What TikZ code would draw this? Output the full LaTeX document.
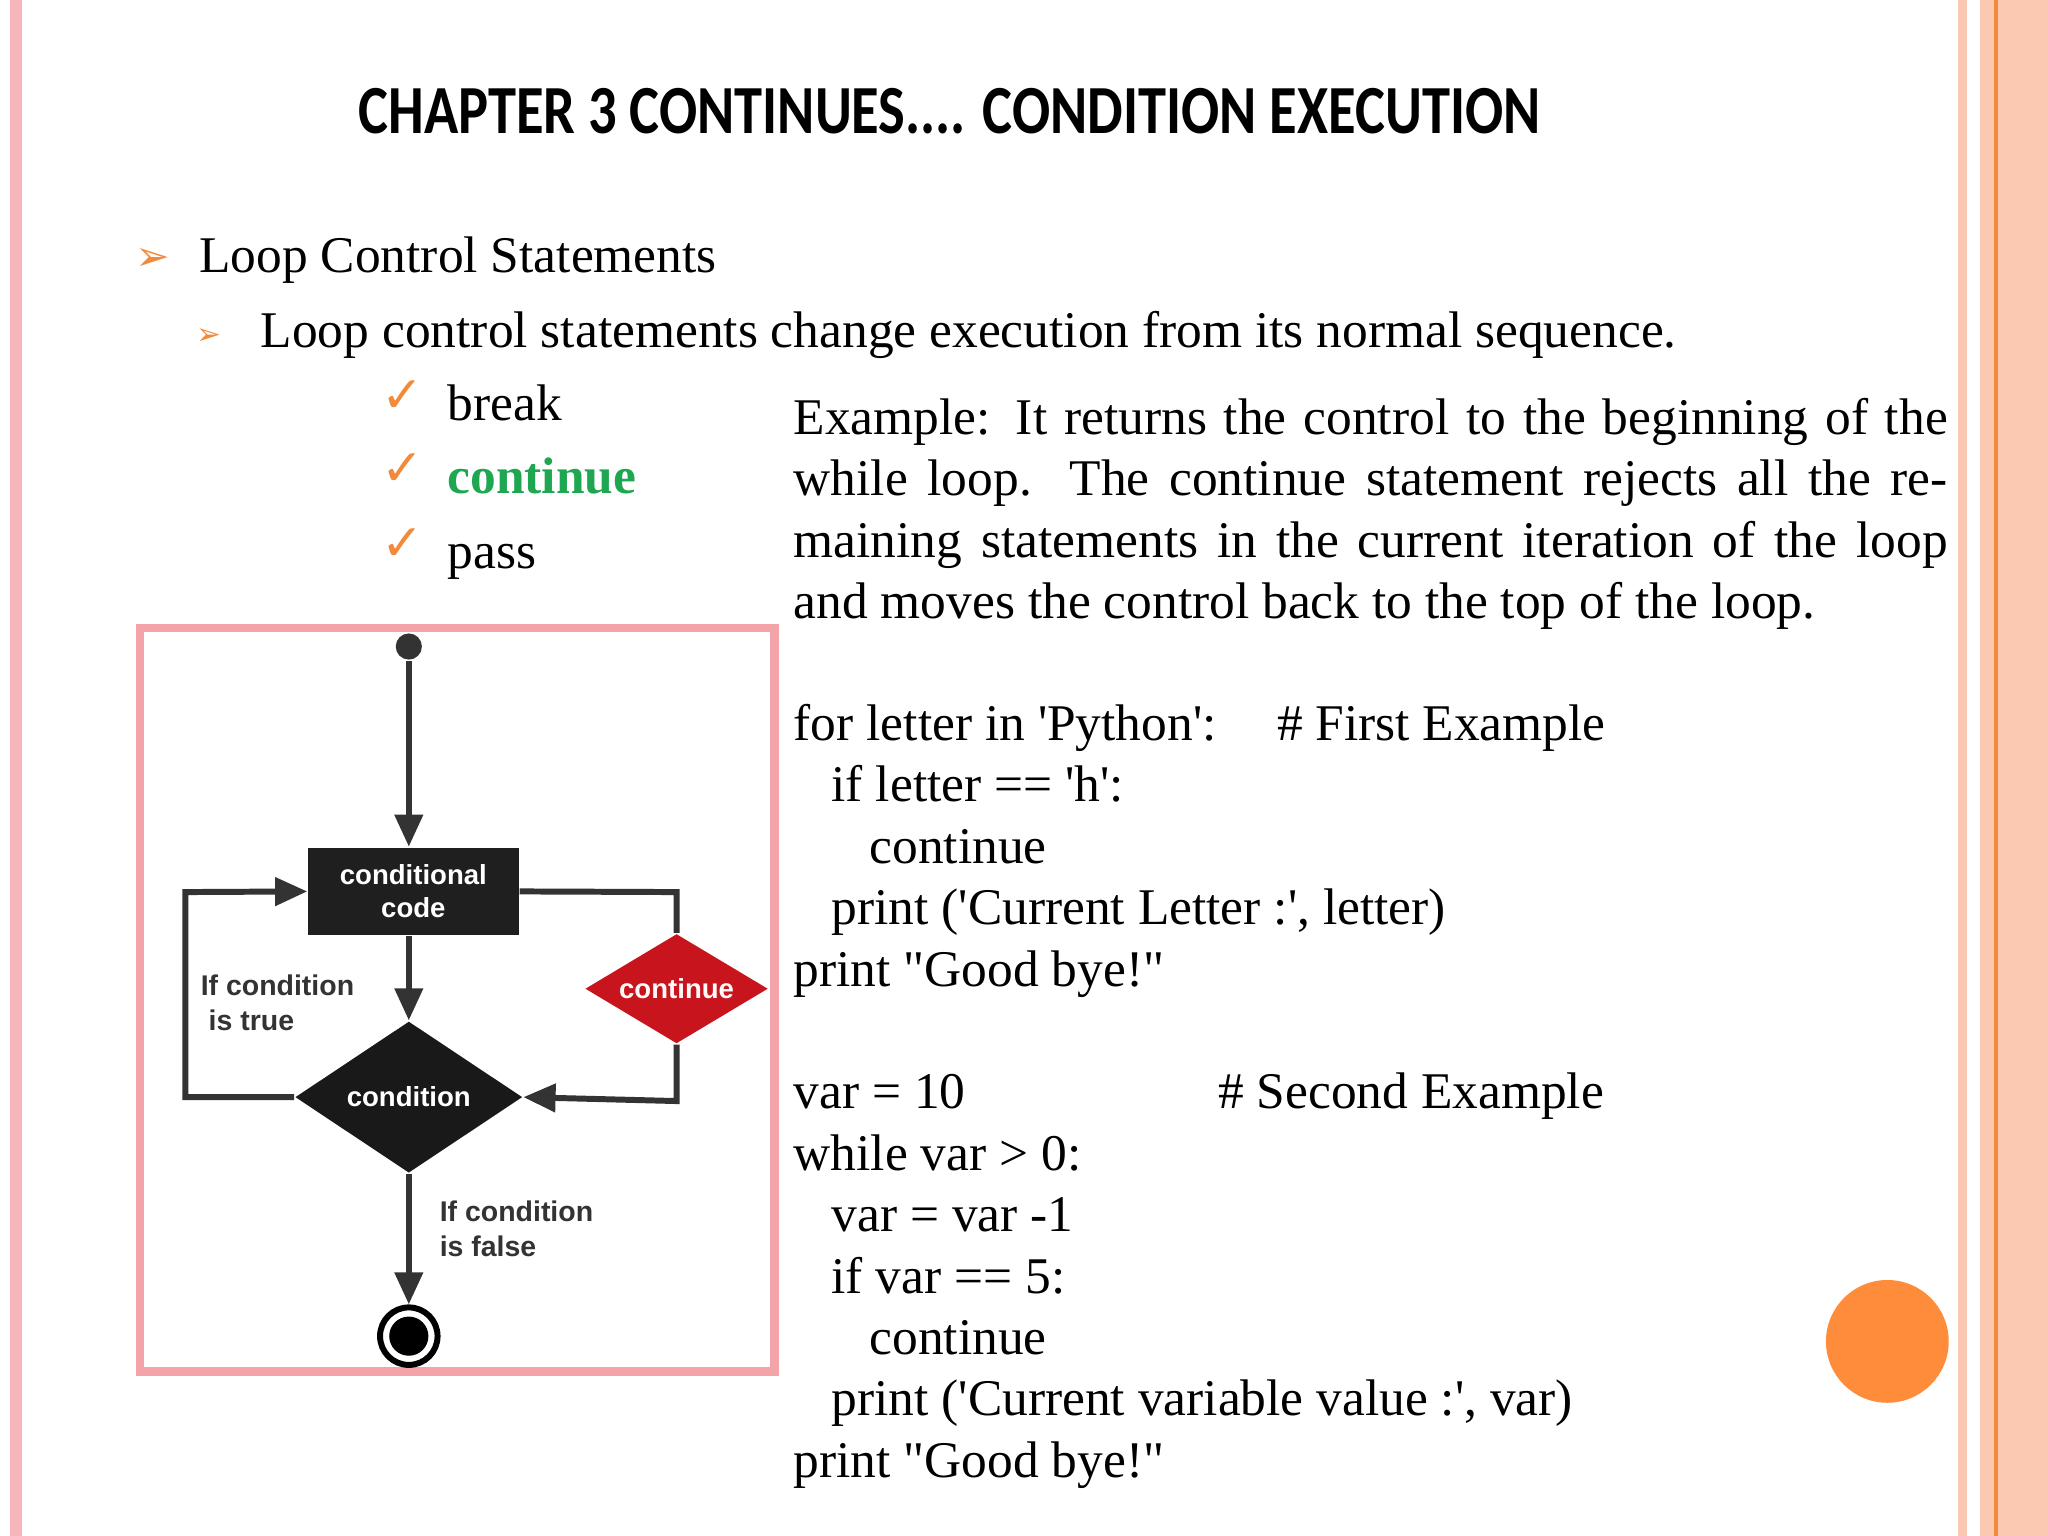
\documentclass[tikz,border=0pt]{standalone}
\usepackage{fontspec}
\setmainfont{Liberation Serif}[Ligatures=TeXOff]
\newfontfamily\djv{DejaVu Sans}
\newfontfamily\titlef{Carlito}
\newfontfamily\flowf{Liberation Sans}
\usetikzlibrary{shapes.geometric,arrows.meta}
\definecolor{pinkb}{HTML}{F4A3A8}
\definecolor{peach}{HTML}{FBC9B2}
\definecolor{orng}{HTML}{F28A3C}
\definecolor{ball}{HTML}{FF8C3A}
\definecolor{grn}{HTML}{1FA650}
\definecolor{redd}{HTML}{C8141C}
\definecolor{ln}{HTML}{333333}
\tikzset{
 txt/.style={anchor=base west,inner sep=0pt,font=\fontsize{11.2}{13.4}\selectfont},
 ftxt/.style={anchor=west,inner sep=0pt,align=left,font=\flowf\bfseries\fontsize{6.2}{7.7}\selectfont,text=ln},
 flow/.style={draw=ln,line width=1.3pt},
 arr/.style={flow,-{Triangle[length=7pt,width=6pt]}}
}
\begin{document}
\begin{tikzpicture}[x=0.01cm,y=-0.01cm]
\useasboundingbox (0,0) rectangle (1568,1176);
% borders
\fill[pinkb!80] (8,0) rectangle (17,1176);
\fill[peach] (1499,0) rectangle (1506,1176);
\fill[peach] (1516,0) rectangle (1568,1176);
\draw[orng,line width=0.8pt] (1528,0) -- (1528,1176);
% title
\node[anchor=base,inner sep=0pt,font=\titlef\bfseries\fontsize{15}{18}\selectfont,xscale=0.82] (title) at (727,102) {CHAPTER 3 CONTINUES.... CONDITION EXECUTION};
% bullets
\node[anchor=base,inner sep=0pt,text=orng,font=\djv\fontsize{9}{10}\selectfont] (b1) at (117,207) {➢};
\node[txt] (l1) at (152,209) {Loop Control Statements};
\node[anchor=base,inner sep=0pt,text=orng,font=\djv\fontsize{6.5}{8}\selectfont] (b2) at (160,264) {➢};
\node[txt] (l2) at (199,266) {Loop control statements change execution from its normal sequence.};
\foreach \y/\t in {322/break,378/{\textcolor{grn}{\bfseries continue}},435/pass}{
 \node[anchor=base,inner sep=0pt,text=orng,font=\djv\fontsize{11}{12}\selectfont] at (308,\y-6) {✓};
 \node[txt] at (342,\y) {\t};
}
% paragraph
\node[anchor=north west,inner sep=0pt,text width=8.83cm,align=justify,font=\fontsize{11.2}{13.4}\selectfont] (para) at (607,304)
{Example: It returns the control to the beginning of the while loop. The continue statement rejects all the remaining statements in the current iteration of the loop and moves the control back to the top of the loop.};
% code
\node[txt] at (607,567) {for letter in 'Python':};
\node[txt] at (977,567) {\# First Example};
\node[txt] at (636,614) {if letter == 'h':};
\node[txt] at (665,661) {continue};
\node[txt] at (636,708) {print ('Current Letter :', letter)};
\node[txt] at (607,755) {print "Good bye!"};
\node[txt] at (607,849) {var = 10};
\node[txt] at (932,849) {\# Second Example};
\node[txt] at (607,896) {while var > 0:};
\node[txt] at (636,943) {var = var -1};
\node[txt] at (636,990) {if var == 5:};
\node[txt] at (665,1037) {continue};
\node[txt] at (636,1084) {print ('Current variable value :', var)};
\node[txt] at (607,1131) {print "Good bye!"};
% ball
\fill[ball] (1445,1027) circle (47);
% flowchart frame
\draw[pinkb,line width=1.8pt] (107,481) rectangle (593,1050);
\node[circle,fill=ln,minimum size=0.2cm,inner sep=0pt] (start) at (313,495) {};
\node[fill=black!88,minimum width=1.61cm,minimum height=0.67cm,inner sep=0pt,align=center,text=white,font=\flowf\bfseries\fontsize{6}{7.2}\selectfont] (code) at (316.5,682.5) {conditional\\code};
\node[diamond,fill=black!90,minimum width=1.74cm,minimum height=1.16cm,aspect=1.5,inner sep=0pt,text=white,font=\flowf\bfseries\fontsize{6}{7}\selectfont] (cond) at (313,840) {condition};
\node[diamond,fill=redd,minimum width=1.40cm,minimum height=0.84cm,aspect=1.67,inner sep=0pt,text=white!90!pink,font=\flowf\bfseries\fontsize{6}{7}\selectfont] (cont) at (518,757) {continue};
\node[circle,draw=black,line width=1.3pt,minimum size=0.44cm,inner sep=0pt] (endc) at (313,1023) {};
\fill[black] (endc) circle (15);
\draw[arr] (start) -- (code.north -| start);
\draw[arr] (code.south -| start) -- (cond.north);
\coordinate (lt) at (142,840);
\coordinate (lu) at (142,683);
\draw[arr] (cond.west) -- (lt) -- (lu) -- (code.west);
\coordinate (rt) at (518,683);
\draw[flow] (code.east) -- (rt) -- (cont.north);
\coordinate (rb) at (518,843);
\draw[arr] (cont.south) -- (rb) -- (cond.east);
\draw[arr] (cond.south) -- (endc.north);
\node[ftxt] (ltrue) at (153,768) {If condition\\\ is true};
\node[ftxt] (lfalse) at (336,941) {If condition\\is false};
\end{tikzpicture}
\end{document}
